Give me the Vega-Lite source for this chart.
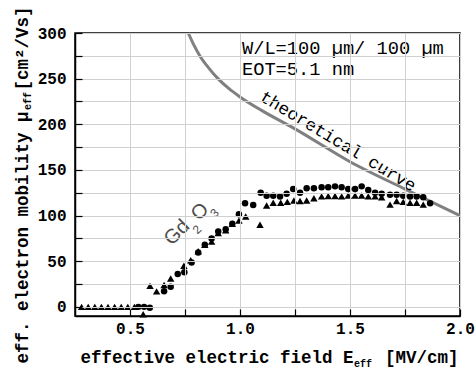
{
  "$schema": "https://vega.github.io/schema/vega-lite/v6.json",
  "width": 385,
  "height": 283,
  "autosize": "none",
  "padding": {"left": 75, "top": 33, "right": 16, "bottom": 60},
  "background": "white",
  "config": {
    "view": {"stroke": "black", "strokeWidth": 1.5, "fill": null},
    "axis": {
      "domainColor": "black",
      "domainWidth": 1.5,
      "tickColor": "black",
      "tickWidth": 1.2,
      "gridColor": "#d0d0d0",
      "gridWidth": 1,
      "labelOverlap": false,
      "labelFlush": false
    }
  },
  "datasets": {
    "curve": [
      {"E": 0.765, "mu": 300}, {"E": 0.79, "mu": 287}, {"E": 0.82, "mu": 274}, {"E": 0.86, "mu": 261},
      {"E": 0.9, "mu": 250}, {"E": 0.95, "mu": 239}, {"E": 1.0, "mu": 230}, {"E": 1.1, "mu": 215},
      {"E": 1.25, "mu": 195}, {"E": 1.5, "mu": 159}, {"E": 1.75, "mu": 129}, {"E": 2.0, "mu": 100}
    ],
    "tri": [
      {"E": 0.28, "mu": 0}, {"E": 0.31, "mu": 0}, {"E": 0.34, "mu": 0}, {"E": 0.37, "mu": 0},
      {"E": 0.40, "mu": 0}, {"E": 0.43, "mu": 0}, {"E": 0.46, "mu": 0}, {"E": 0.49, "mu": 0},
      {"E": 0.52, "mu": 0}, {"E": 0.56, "mu": -8},
      {"E": 0.591, "mu": 23}, {"E": 0.621, "mu": 17}, {"E": 0.655, "mu": 24}, {"E": 0.685, "mu": 31},
      {"E": 0.745, "mu": 45}, {"E": 0.776, "mu": 51}, {"E": 0.81, "mu": 61}, {"E": 0.84, "mu": 68},
      {"E": 0.871, "mu": 71.5}, {"E": 0.901, "mu": 81}, {"E": 0.935, "mu": 84}, {"E": 0.965, "mu": 91},
      {"E": 0.995, "mu": 94.5}, {"E": 1.026, "mu": 99}, {"E": 1.091, "mu": 90}, {"E": 1.121, "mu": 111},
      {"E": 1.151, "mu": 114}, {"E": 1.185, "mu": 114}, {"E": 1.215, "mu": 115}, {"E": 1.245, "mu": 116.5},
      {"E": 1.273, "mu": 116}, {"E": 1.303, "mu": 116.5}, {"E": 1.336, "mu": 119}, {"E": 1.371, "mu": 121},
      {"E": 1.401, "mu": 121.5}, {"E": 1.432, "mu": 121.5}, {"E": 1.462, "mu": 121}, {"E": 1.492, "mu": 122},
      {"E": 1.523, "mu": 122}, {"E": 1.553, "mu": 122}, {"E": 1.583, "mu": 121}, {"E": 1.614, "mu": 121},
      {"E": 1.644, "mu": 120}, {"E": 1.682, "mu": 112}, {"E": 1.712, "mu": 116}, {"E": 1.742, "mu": 115},
      {"E": 1.773, "mu": 114}, {"E": 1.803, "mu": 114}, {"E": 1.833, "mu": 112}
    ],
    "circ": [
      {"E": 0.538, "mu": 0}, {"E": 0.564, "mu": 0}, {"E": 0.59, "mu": -1},
      {"E": 0.655, "mu": 17}, {"E": 0.685, "mu": 22}, {"E": 0.717, "mu": 36}, {"E": 0.747, "mu": 38},
      {"E": 0.78, "mu": 48.5}, {"E": 0.81, "mu": 59.5}, {"E": 0.84, "mu": 68}, {"E": 0.871, "mu": 75},
      {"E": 0.901, "mu": 82.6}, {"E": 0.935, "mu": 85}, {"E": 0.965, "mu": 91}, {"E": 0.995, "mu": 101.5},
      {"E": 1.023, "mu": 113.6}, {"E": 1.06, "mu": 111.7}, {"E": 1.094, "mu": 125}, {"E": 1.121, "mu": 121.6},
      {"E": 1.151, "mu": 121.6}, {"E": 1.182, "mu": 121}, {"E": 1.212, "mu": 124}, {"E": 1.242, "mu": 129},
      {"E": 1.273, "mu": 125}, {"E": 1.303, "mu": 130}, {"E": 1.336, "mu": 130}, {"E": 1.371, "mu": 131},
      {"E": 1.401, "mu": 131}, {"E": 1.432, "mu": 132}, {"E": 1.462, "mu": 131}, {"E": 1.492, "mu": 129},
      {"E": 1.523, "mu": 129}, {"E": 1.553, "mu": 132}, {"E": 1.583, "mu": 128}, {"E": 1.614, "mu": 125},
      {"E": 1.644, "mu": 124}, {"E": 1.682, "mu": 122.7}, {"E": 1.712, "mu": 122.7}, {"E": 1.742, "mu": 121.6},
      {"E": 1.773, "mu": 121}, {"E": 1.803, "mu": 121}, {"E": 1.833, "mu": 120}, {"E": 1.864, "mu": 113.6}
    ],
    "info": [
      {"E": 1.009, "mu": 277.5, "t": "W/L=100 µm/ 100 µm"},
      {"E": 1.009, "mu": 254, "t": "EOT=5.1 nm"}
    ],
    "theo": [{"E": 1.445, "mu": 181, "t": "theoretical curve"}],
    "gdmain": [{"E": 0.7136, "mu": 81.5, "t": "Gd"}, {"E": 0.818, "mu": 104.2, "t": "O"}],
    "gdsub": [{"E": 0.8045, "mu": 84.8, "t": "2"}, {"E": 0.884, "mu": 102.8, "t": "3"}],
    "xsub": [{"E": 1.518, "mu": -65.9, "t": "eff"}],
    "ysub": [{"E": 0.05, "mu": 215.7, "t": "eff"}]
  },
  "encoding": {
    "x": {
      "field": "E",
      "type": "quantitative",
      "scale": {"domain": [0.25, 2.0], "nice": false, "zero": false},
      "axis": {
        "title": "effective electric field E\u00a0\u00a0\u00a0[MV/cm]",
        "titleFont": "Liberation Mono",
        "titleFontWeight": "bold",
        "titleFontSize": 17.5,
        "titleColor": "black",
        "titleAlign": "left",
        "titleAnchor": "start",
        "titleBaseline": "alphabetic",
        "titleX": 5,
        "titleY": 46,
        "labelFont": "Liberation Mono",
        "labelFontWeight": "bold",
        "labelFontSize": 16,
        "labelColor": "black",
        "values": [0.5, 0.75, 1, 1.25, 1.5, 1.75, 2],
        "labelExpr": "(datum.value == 0.75 || datum.value == 1.25 || datum.value == 1.75) ? '' : format(datum.value, '.1f')",
        "grid": true,
        "zindex": 1,
        "tickSize": -7,
        "labelPadding": 11,
        "encode": {
          "grid": {"update": {"strokeOpacity": {"signal": "(datum.value == 0.75 || datum.value == 1.25 || datum.value == 1.75 || datum.value == 2) ? 0 : 1"}}},
          "ticks": {"update": {"y2": {"signal": "(datum.value == 0.75 || datum.value == 1.25 || datum.value == 1.75) ? -4 : -7"}}}
        }
      }
    },
    "y": {
      "field": "mu",
      "type": "quantitative",
      "scale": {"domain": [-10, 300], "nice": false, "zero": false},
      "axis": {
        "title": "eff. electron mobility µ\u00a0\u00a0[cm²/Vs]",
        "titleFont": "Liberation Mono",
        "titleFontWeight": "bold",
        "titleFontSize": 17.5,
        "titleColor": "black",
        "titleAlign": "left",
        "titleAnchor": "start",
        "titleBaseline": "alphabetic",
        "titleAngle": 270,
        "titleX": -48,
        "titleY": 330,
        "labelFont": "Liberation Mono",
        "labelFontWeight": "bold",
        "labelFontSize": 16,
        "labelColor": "black",
        "values": [0, 25, 50, 75, 100, 125, 150, 175, 200, 225, 250, 275, 300],
        "labelExpr": "datum.value % 50 == 0 ? format(datum.value, 'd') : ''",
        "grid": true,
        "zindex": 1,
        "tickSize": -7,
        "labelPadding": 16,
        "encode": {
          "grid": {"update": {"strokeOpacity": {"signal": "(datum.value % 50 == 0 && datum.value < 300) ? 1 : 0"}}},
          "ticks": {"update": {"x2": {"signal": "datum.value % 50 == 0 ? 7 : 4"}}}
        }
      }
    }
  },
  "layer": [
    {
      "data": {"name": "curve"},
      "mark": {"type": "line", "color": "#808080", "strokeWidth": 3, "interpolate": "monotone"}
    },
    {
      "data": {"name": "tri"},
      "mark": {"type": "point", "shape": "triangle-up", "filled": true, "color": "black", "opacity": 1, "size": 55}
    },
    {
      "data": {"name": "circ"},
      "mark": {"type": "circle", "color": "black", "opacity": 1, "size": 42}
    },
    {
      "data": {"name": "info"},
      "mark": {"type": "text", "font": "Liberation Mono", "fontSize": 18.7, "align": "left", "baseline": "alphabetic", "color": "black"},
      "encoding": {"text": {"field": "t"}}
    },
    {
      "data": {"name": "theo"},
      "mark": {"type": "text", "font": "Liberation Mono", "fontSize": 17.5, "align": "center", "baseline": "middle", "angle": 31, "color": "black"},
      "encoding": {"text": {"field": "t"}}
    },
    {
      "data": {"name": "gdmain"},
      "mark": {"type": "text", "font": "Liberation Sans", "fontSize": 20, "align": "center", "baseline": "middle", "angle": -45, "color": "#4d4d4d"},
      "encoding": {"text": {"field": "t"}}
    },
    {
      "data": {"name": "gdsub"},
      "mark": {"type": "text", "font": "Liberation Sans", "fontSize": 12, "align": "center", "baseline": "middle", "angle": -45, "color": "#4d4d4d"},
      "encoding": {"text": {"field": "t"}}
    },
    {
      "data": {"name": "xsub"},
      "mark": {"type": "text", "font": "Liberation Mono", "fontWeight": "bold", "fontSize": 10, "align": "left", "baseline": "alphabetic", "color": "black"},
      "encoding": {"text": {"field": "t"}}
    },
    {
      "data": {"name": "ysub"},
      "mark": {"type": "text", "font": "Liberation Mono", "fontWeight": "bold", "fontSize": 10, "align": "left", "baseline": "alphabetic", "angle": 270, "color": "black"},
      "encoding": {"text": {"field": "t"}}
    }
  ]
}
